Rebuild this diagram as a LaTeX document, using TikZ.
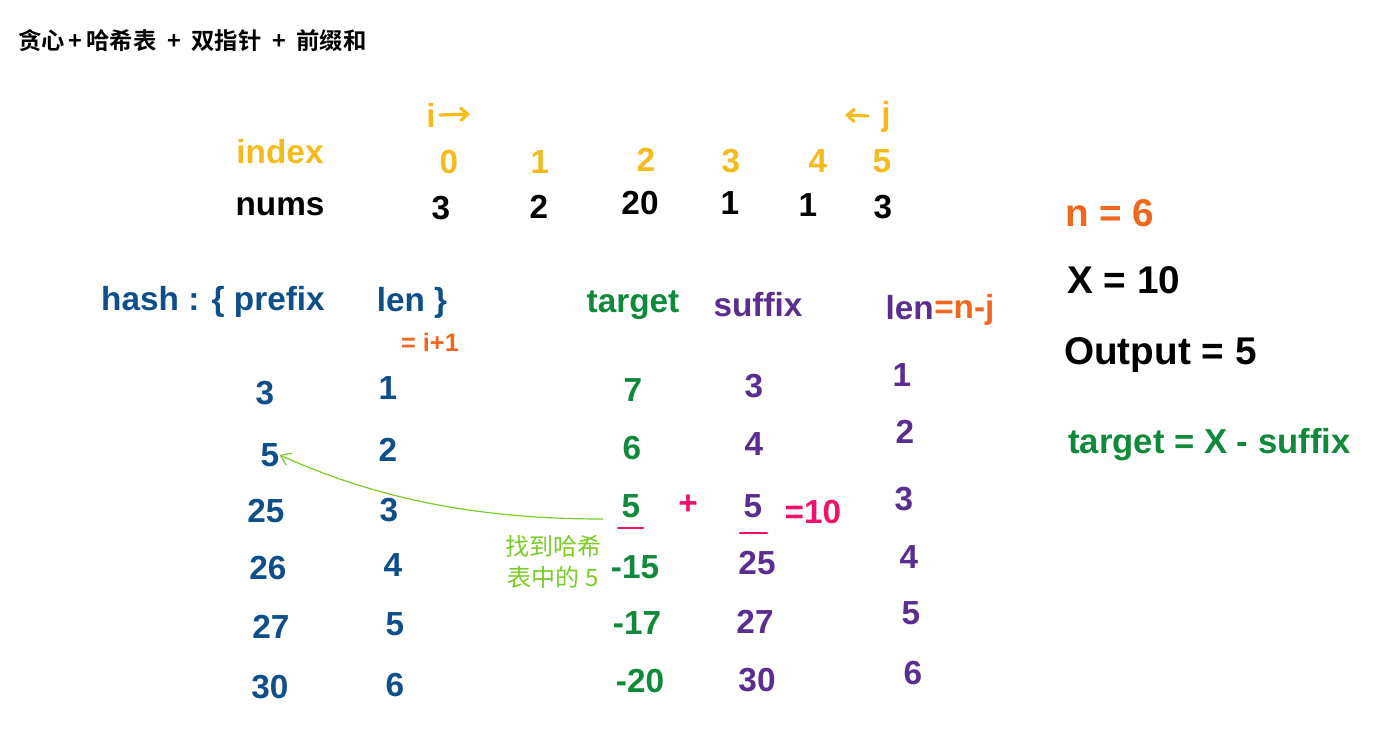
\documentclass[tikz,border=0pt]{standalone}
\usepackage{fontspec}
\setmainfont{Liberation Sans}
\newfontfamily\cjk{Noto Sans CJK SC}[BoldFont={Noto Sans CJK SC Bold}]
\usetikzlibrary{arrows.meta}
\definecolor{cyel}{HTML}{F5BA1B}
\definecolor{cblue}{HTML}{0E4E8A}
\definecolor{cgreen}{HTML}{0E8A3A}
\definecolor{cpurple}{HTML}{5A2D91}
\definecolor{corange}{HTML}{F2671F}
\definecolor{cpink}{HTML}{F0116B}
\definecolor{clime}{HTML}{7ACC29}
\tikzset{
  hw/.style={inner sep=0pt, font=\fontsize{25}{27}\selectfont\bfseries},
  hwl/.style={inner sep=0pt, font=\fontsize{29}{31}\selectfont\bfseries},
  hwm/.style={inner sep=0pt, font=\fontsize{26}{28}\selectfont\bfseries},
  hws/.style={inner sep=0pt, font=\fontsize{19}{21}\selectfont\bfseries},
  yel/.style={hw, text=cyel},
  blk/.style={hw, text=black},
  blu/.style={hw, text=cblue},
  grn/.style={hw, text=cgreen},
  pur/.style={hw, text=cpurple},
  org/.style={hw, text=corange},
  pnk/.style={hw, text=cpink},
  note/.style={inner sep=0pt, text=clime, font=\cjk\fontsize{18}{23}\selectfont, align=center},
  uline/.style={draw=cpink, line width=2pt, line cap=round},
  ptr/.style={draw=cyel, line width=2.4pt, line cap=round, -{Straight Barb[length=5pt,width=9pt,line cap=round]}},
  findarrow/.style={draw=clime, line width=0.9pt, -{Straight Barb[length=7pt,width=10pt]}}
}
\begin{document}
\begin{tikzpicture}[x=0.75pt,y=-0.75pt]
\useasboundingbox[fill=white] (0,0) rectangle (1389,745);
% title
\node[anchor=west, inner sep=0pt, font=\cjk\bfseries\fontsize{17.5}{20}\selectfont] (title) at (18,41) {贪心\,+\,哈希表\ \ +\ \ 双指针\ \ +\ \ 前缀和};
% pointers
\node[yel] (ip) at (431,115) {i};
\coordinate (ipa) at (440,115); \coordinate (ipb) at (470,114);
\draw[ptr] (ipa) -- (ipb);
\node[yel] (jp) at (886,117) {j};
\coordinate (jpa) at (868,116); \coordinate (jpb) at (845,115);
\draw[ptr] (jpa) -- (jpb);
% index row
\node[yel] (index) at (280,152) {index};
\node[yel] (i0) at (449,162) {0};
\node[yel] (i1) at (540,162) {1};
\node[yel] (i2) at (646,160) {2};
\node[yel] (i3) at (731,161) {3};
\node[yel] (i4) at (818,161) {4};
\node[yel] (i5) at (882,161) {5};
% nums row
\node[blk] (nums) at (280,207) {nums};
\node[blk] (n0) at (441,208) {3};
\node[blk] (n1) at (539,207) {2};
\node[blk] (n2) at (640,203) {20};
\node[blk] (n3) at (730,203) {1};
\node[blk] (n4) at (808,205) {1};
\node[blk] (n5) at (883,207) {3};
% headers
\node[blu] (hash) at (213,302) {hash : \{ prefix};
\node[blu] (hlen) at (412,303) {len \}};
\node[org, hws] (hlenf) at (430,342) {= i+1};
\node[grn] (tgt) at (633,305) {target};
\node[pur] (suf) at (758,305) {suffix};
\node[pur, anchor=east] (slen) at (934,308) {len};
\node[org, anchor=west] (slenf) at (934,310) {=n-j};
% right side
\node[org, hwl, anchor=west] (nn) at (1065,213) {n = 6};
\node[blk, hwl, anchor=west] (xx) at (1067,280) {X = 10};
\node[blk, hwl, anchor=west] (out) at (1064,355) {Output = 5};
\node[grn, hwm, anchor=west] (form) at (1068,445) {target = X - suffix};
% prefix column
\node[blu] (p0) at (265,393) {3};
\node[blu] (p1) at (270,455) {5};
\node[blu] (p2) at (266,511) {25};
\node[blu] (p3) at (268,568) {26};
\node[blu] (p4) at (271,627) {27};
\node[blu] (p5) at (270,687) {30};
% len column
\node[blu] (l0) at (388,388) {1};
\node[blu] (l1) at (388,450) {2};
\node[blu] (l2) at (389,510) {3};
\node[blu] (l3) at (393,565) {4};
\node[blu] (l4) at (395,624) {5};
\node[blu] (l5) at (395,685) {6};
% target column
\node[grn] (t0) at (633,390) {7};
\node[grn] (t1) at (632,448) {6};
\node[grn] (t2) at (631,506) {5};
\node[grn] (t3) at (635,567) {-15};
\node[grn] (t4) at (637,623) {-17};
\node[grn] (t5) at (640,681) {-20};
% suffix column
\node[pur] (s0) at (754,386) {3};
\node[pur] (s1) at (754,444) {4};
\node[pur] (s2) at (753,506) {5};
\node[pur] (s3) at (757,563) {25};
\node[pur] (s4) at (755,622) {27};
\node[pur] (s5) at (757,680) {30};
% len2 column
\node[pur] (m0) at (902,375) {1};
\node[pur] (m1) at (905,432) {2};
\node[pur] (m2) at (904,499) {3};
\node[pur] (m3) at (909,557) {4};
\node[pur] (m4) at (911,613) {5};
\node[pur] (m5) at (913,673) {6};
% sum
\node[pnk] (plus) at (688,505) {+};
\node[pnk] (eq) at (813,512) {=10};
\coordinate (u1a) at (618,528); \coordinate (u1b) at (643,528);
\coordinate (u2a) at (740,533); \coordinate (u2b) at (767,533);
\draw[uline] (u1a) -- (u1b);
\draw[uline] (u2a) -- (u2b);
% note
\node[note] (note) at (553,562) {找到哈希\\表中的 5};
\coordinate (arrs) at (603,519);
\draw[findarrow] (arrs) .. controls (480,519) and (380,500) .. (p1.east);
\end{tikzpicture}
\end{document}
